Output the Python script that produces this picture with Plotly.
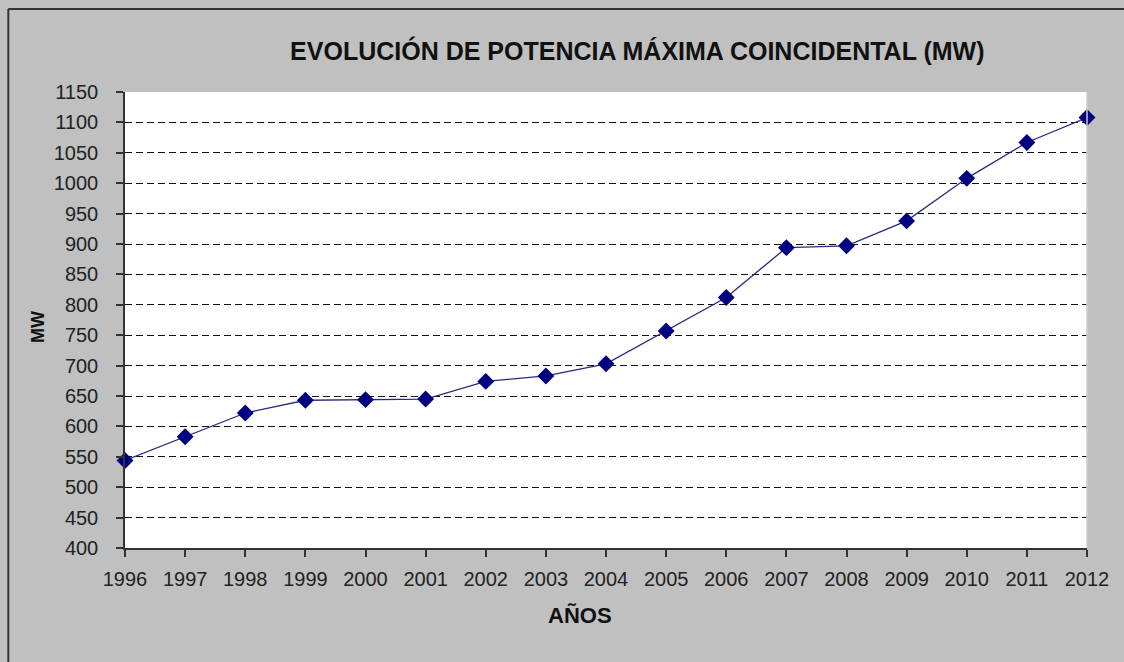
import plotly.graph_objects as go

years = list(range(1996, 2013))
mw = [544, 583, 622, 643, 644, 645, 674, 683, 703, 757, 812, 894, 897, 938, 1008, 1067, 1108]
y_ticks = list(range(400, 1151, 50))

fig = go.Figure()
fig.add_trace(go.Scatter(
    x=years, y=mw, mode="lines+markers",
    line=dict(color="#2a2a80", width=1.3),
    marker=dict(symbol="diamond", size=13, color="#000080"),
    cliponaxis=False, showlegend=False,
))

fig.update_layout(
    width=1124, height=662,
    paper_bgcolor="#c0c0c0", plot_bgcolor="#ffffff",
    margin=dict(l=125, r=37, t=92, b=114),
    font=dict(family="Liberation Sans, Arial", size=20, color="#222222"),
    title=dict(text="<b>EVOLUCIÓN DE POTENCIA MÁXIMA COINCIDENTAL (MW)</b>",
               x=0.567, xanchor="center", y=0.923, yanchor="middle",
               font=dict(size=25, color="#111111")),
    xaxis=dict(
        range=[1996, 2012], tickmode="array", tickvals=years,
        ticktext=[str(y) for y in years],
        showgrid=False, zeroline=False,
        showline=True, linecolor="#333333", linewidth=1.5,
        ticks="outside", ticklen=7, tickcolor="#333333", tickwidth=1.5,
        ticklabelstandoff=5,
    ),
    yaxis=dict(
        range=[400, 1150], tickmode="array", tickvals=y_ticks,
        showgrid=True, gridcolor="#111111", gridwidth=1.3, griddash="7px,4px",
        zeroline=False,
        showline=True, linecolor="#333333", linewidth=1.5,
        ticks="outside", ticklen=7, tickcolor="#333333", tickwidth=1.5,
        ticklabelstandoff=14,
    ),
    annotations=[
        dict(text="<b>AÑOS</b>", xref="paper", yref="paper", x=0.473, y=-0.147,
             xanchor="center", yanchor="middle", showarrow=False,
             font=dict(size=22, color="#111111")),
        dict(text="<b>MW</b>", xref="paper", yref="paper", x=-0.0904, y=0.485,
             xanchor="center", yanchor="middle", showarrow=False, textangle=-90,
             font=dict(size=18, color="#111111")),
    ],
    shapes=[
        dict(type="line", xref="paper", yref="paper",
             x0=1, x1=1, y0=0, y1=1, line=dict(color="#cccccc", width=1.5)),
        dict(type="line", xref="paper", yref="paper",
             x0=-0.1213, x1=1.1, y0=1.182, y1=1.182, line=dict(color="#333333", width=2)),
        dict(type="line", xref="paper", yref="paper",
             x0=-0.1213, x1=-0.1213, y0=-0.3, y1=1.182, line=dict(color="#333333", width=2)),
    ],
)

fig.write_html("out.html", config={"displayModeBar": False},
               post_script="document.body.style.margin='0px';")
